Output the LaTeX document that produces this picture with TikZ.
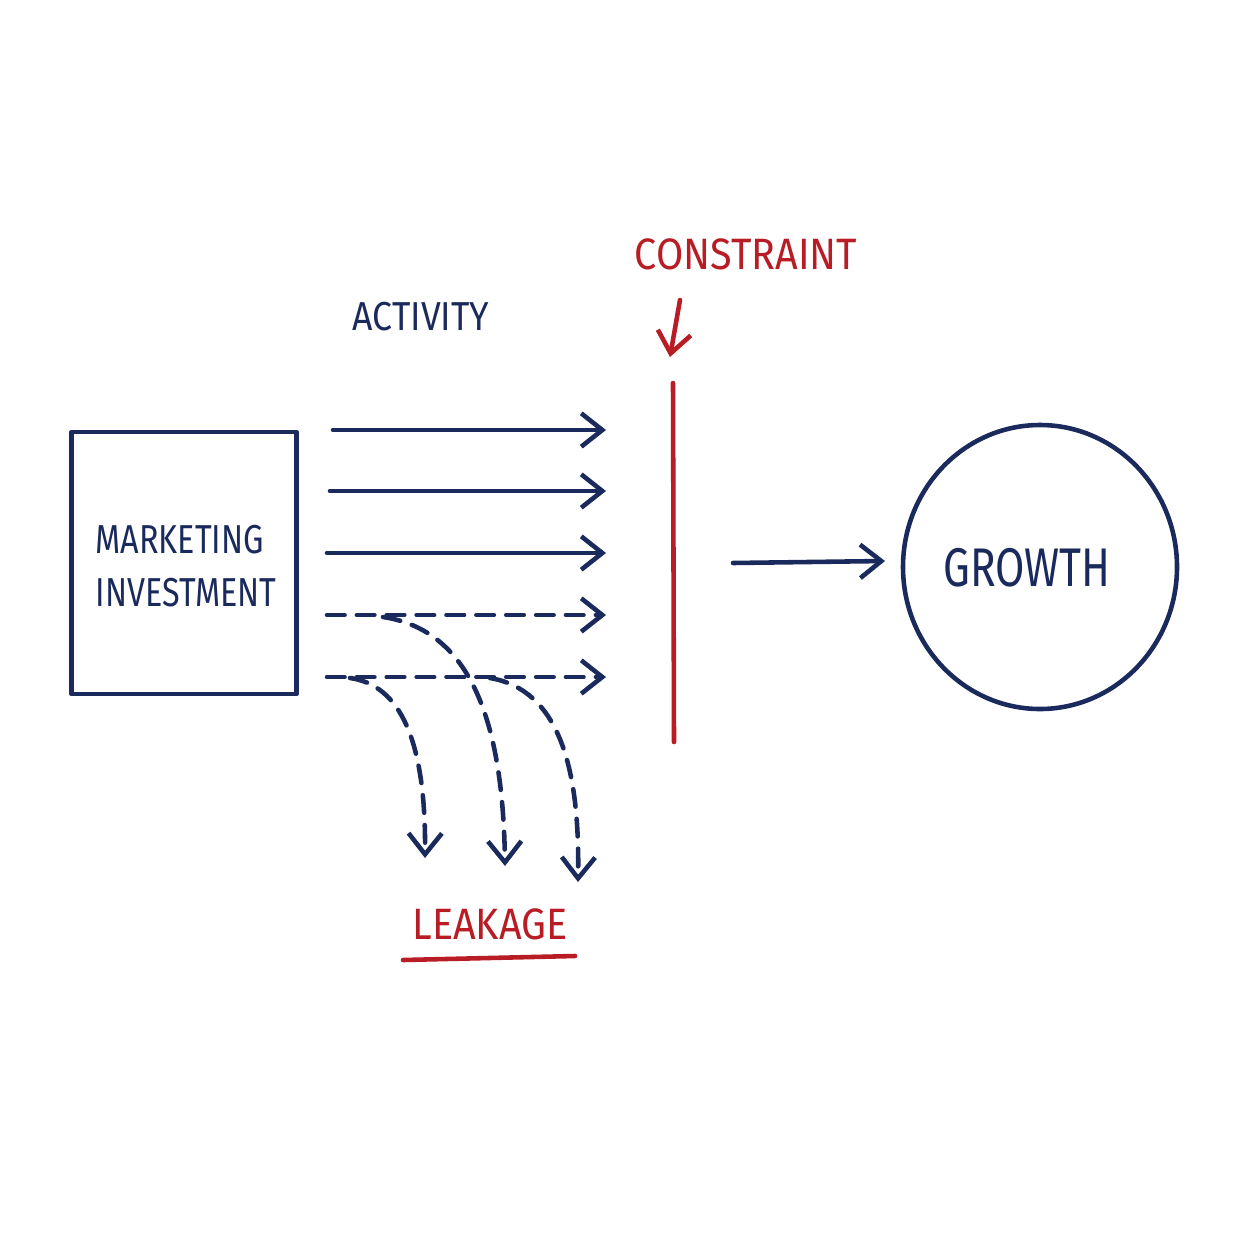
\documentclass[tikz,border=0pt]{standalone}
\usepackage{fontspec}
\setmainfont{Fira Sans}
\usetikzlibrary{arrows.meta,shapes.geometric}
\definecolor{ink}{HTML}{1B2A5C}
\definecolor{redink}{HTML}{B81C24}
\begin{document}
\begin{tikzpicture}[x=0.02cm,y=-0.02cm,
  every node/.style={inner sep=0pt},
  navy/.style={draw=ink,line width=2.6pt,line cap=round,line join=round},
  rline/.style={draw=redink,line width=2.6pt,line cap=round,line join=round},
  tip/.style={-{Straight Barb[length=12pt,width=19pt,line width=2.6pt]}},
  dsh/.style={dash pattern=on 10pt off 7pt},
  lbl/.style={text=ink,font=\fontsize{23}{28}\selectfont},
  rlbl/.style={text=redink,font=\fontsize{25}{30}\selectfont}]
\useasboundingbox (0,0) rectangle (1254,1254);
% box
\node[navy,minimum width=225*0.02cm,minimum height=262*0.02cm] (inv) at (184,563) {};
\node[lbl,align=left,xscale=0.8] (invtxt) at (186,566) {MARKETING\\[2pt]INVESTMENT};
% labels
\node[lbl,xscale=0.88] (act) at (421,317) {ACTIVITY};
\node[rlbl,xscale=0.9] (con) at (746,254) {CONSTRAINT};
\node[rlbl,xscale=0.9] (leak) at (490,924) {LEAKAGE};
% coordinates for arrows
\foreach \i/\y/\xs in {1/430/333,2/491/330,3/553/327,4/615/327,5/677/327}{
  \coordinate (s\i) at (\xs,\y);
  \coordinate (e\i) at (606,\y);
}
\draw[navy,tip] (s1) -- (e1);
\draw[navy,tip] (s2) -- (e2);
\draw[navy,tip] (s3) -- (e3);
\draw[navy,tip,dsh] (s4) -- (e4);
\draw[navy,tip,dsh] (s5) -- (e5);
% leakage curves
\coordinate (la) at (383,617);
\coordinate (lae) at (505,866);
\coordinate (lb) at (350,678);
\coordinate (lbe) at (425,858);
\coordinate (lc) at (490,678);
\coordinate (lce) at (578,882);
\draw[navy,tip,dsh] (lb) .. controls (400,685) and (426,740) .. (lbe);
\draw[navy,tip,dsh] (la) .. controls (470,630) and (503,720) .. (lae);
\draw[navy,tip,dsh] (lc) .. controls (560,690) and (580,770) .. (lce);
% constraint
\coordinate (ct) at (673,383);
\coordinate (cb) at (674,742);
\draw[rline] (ct) -- (cb);
\coordinate (ra) at (680,300);
\coordinate (rb) at (670,357);
\draw[rline,tip] (ra) -- (rb);
% leakage underline
\coordinate (u1) at (403,960);
\coordinate (u2) at (575,956);
\draw[rline] (u1) -- (u2);
% growth
\node[navy,ellipse,minimum width=274*0.02cm,minimum height=284*0.02cm] (gr) at (1040,567) {};
\node[lbl,font=\fontsize{31}{36}\selectfont,xscale=0.78] (grt) at (1027,568) {GROWTH};
\coordinate (ga) at (733,563);
\coordinate (gb) at (885,561);
\draw[navy,tip] (ga) -- (gb);
\end{tikzpicture}
\end{document}
